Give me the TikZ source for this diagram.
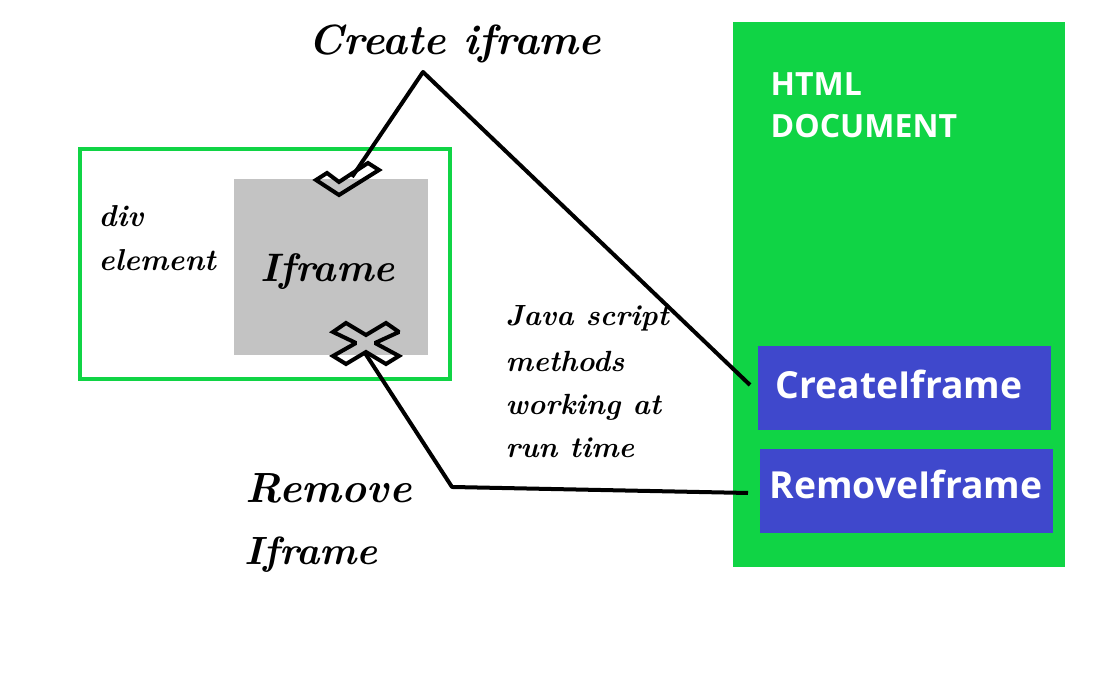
\documentclass[tikz,border=0pt]{standalone}
\usepackage{fontspec}
\usepackage{tikz}
\newfontfamily\labelfont{Open Sans}
\definecolor{docgreen}{HTML}{10D445}
\definecolor{btnblue}{HTML}{3F48CC}
\definecolor{framegrey}{HTML}{C3C3C3}
\tikzset{
  hand/.style={anchor=west, inner sep=0pt, font=\fontsize{#1}{#1}\selectfont\bfseries\itshape},
  btn/.style={fill=btnblue, minimum width=2.93cm, minimum height=0.84cm, inner sep=0pt},
  btnlabel/.style={text=white, inner sep=0pt, font=\labelfont\bfseries\fontsize{10.6}{10.6}\selectfont},
  doclabel/.style={anchor=west, inner sep=0pt, text=white, font=\labelfont\bfseries\fontsize{9.1}{9.1}\selectfont},
  wire/.style={line width=0.04cm, line join=round},
  mark line/.style={line width=0.04cm, miter limit=2}
}

\begin{document}
\begin{tikzpicture} [x=0.01cm,y=-0.01cm]
      \useasboundingbox (0,0) rectangle (1099,677);

      %draw boxes
      \node[fill=docgreen, minimum width=3.32cm, minimum height=5.45cm, inner sep=0pt] (doc) at (899,294.5) {};
      \node[draw=docgreen, line width=0.04cm, minimum width=3.70cm, minimum height=2.30cm, inner sep=0pt] (divbox) at (265,264) {};
      \node[fill=framegrey, minimum width=1.94cm, minimum height=1.76cm, inner sep=0pt] (frame) at (331,267) {};
      \node[btn] (createbtn) at (904.5,388) {};
      \node[btn] (removebtn) at (906.5,491) {};

      %draw check and cross marks
      \draw[mark line] (316,180) -- (327,173) -- (339,182) -- (368,163) -- (379,170) -- (339,195) -- cycle;
      \draw[mark line] (333,332) -- (346,323) -- (366,335) -- (386,323) -- (399,332) -- (375,343) -- (399,356)
        -- (386,364) -- (366,352) -- (346,364) -- (333,356) -- (356,343) -- cycle;

      \coordinate (createend) at (750,385); %line ends
      \coordinate (createtop) at (423,72);
      \coordinate (checkend) at (352,177);
      \coordinate (removeend) at (748,493);
      \coordinate (removebend) at (452,487);
      \coordinate (crossend) at (365,353);
      \draw[wire] (createend) -- (createtop) -- (checkend);
      \draw[wire] (removeend) -- (removebend) -- (crossend);

      %draw labels
      \node[hand=12] (createlabel) at (308,44) {Create iframe};
      \node[hand=8.6] (divlabel) at (98,216) {div};
      \node[hand=8.6] (elementlabel) at (98,260) {element};
      \node[hand=11.3] (framelabel) at (260,272) {Iframe};
      \node[hand=8.3] (javalabel) at (505,318) {Java script};
      \node[hand=8.3] (methodslabel) at (505,361) {methods};
      \node[hand=8.3] (workinglabel) at (505,407) {working at};
      \node[hand=8.3] (runlabel) at (505,448) {run time};
      \node[hand=12] (removelabel) at (245,488) {Remove};
      \node[hand=11.2] (iframelabel) at (244,555) {Iframe};
      \node[btnlabel] (createtext) at (899,384) {CreateIframe};
      \node[btnlabel] (removetext) at (906,484) {RemoveIframe};
      \node[doclabel] (htmllabel) at (770,84) {HTML};
      \node[doclabel] (doclabel) at (770,126) {DOCUMENT};
    \end{tikzpicture}
\end{document}
